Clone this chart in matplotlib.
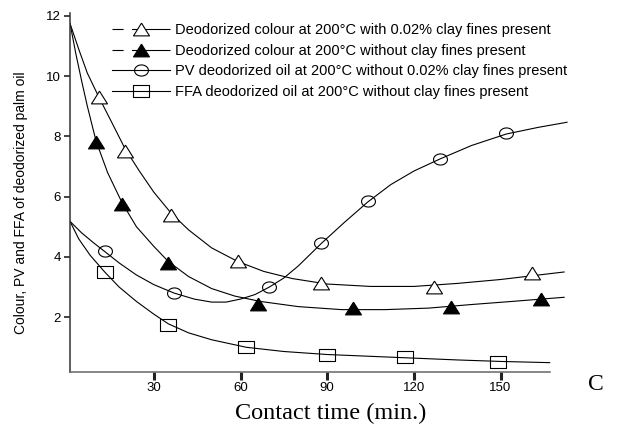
import numpy as np
import matplotlib
matplotlib.use("Agg")
import matplotlib.pyplot as plt
from matplotlib.lines import Line2D

plt.rcParams['font.family'] = ['Liberation Sans', 'DejaVu Sans']
plt.rcParams['lines.scale_dashes'] = False

# Measured points (contact time in min.)
open_tri_x = [11, 20, 36, 59, 88, 127, 161]
open_tri_y = [9.3, 7.5, 5.4, 3.85, 3.15, 3.0, 3.45]
fill_tri_x = [10, 19, 35, 66, 99, 133, 164]
fill_tri_y = [7.8, 5.75, 3.8, 2.45, 2.3, 2.35, 2.6]
pv_x = [13, 37, 70, 88, 104, 129, 152]
pv_y = [4.2, 2.8, 3.0, 4.45, 5.85, 7.25, 8.1]
ffa_x = [13, 35, 62, 90, 117, 149]
ffa_y = [3.5, 1.75, 1.0, 0.75, 0.68, 0.5]

# Fitted curves
open_fit_x = [1, 4, 7, 11, 15, 20, 25, 30, 36, 42, 50, 59, 68, 78, 90, 105, 120, 135, 150, 172]
open_fit_y = [11.75, 10.9, 10.1, 9.3, 8.55, 7.6, 6.85, 6.15, 5.45, 4.9, 4.3, 3.85, 3.52, 3.28, 3.1, 3.02, 3.02, 3.12, 3.25, 3.5]
fill_fit_x = [1, 3, 5, 7, 10, 14, 19, 24, 30, 35, 42, 50, 58, 67, 80, 95, 110, 125, 140, 155, 172]
fill_fit_y = [11.75, 10.75, 9.85, 9.0, 7.85, 6.8, 5.8, 5.0, 4.35, 3.85, 3.35, 2.95, 2.7, 2.52, 2.35, 2.25, 2.25, 2.3, 2.42, 2.53, 2.66]
pv_fit_x = [1, 5, 9, 13, 18, 24, 30, 37, 44, 50, 55, 60, 65, 70, 75, 80, 88, 96, 104, 112, 120, 129, 140, 152, 163, 173]
pv_fit_y = [5.18, 4.8, 4.48, 4.18, 3.8, 3.4, 3.08, 2.8, 2.6, 2.5, 2.5, 2.6, 2.75, 3.0, 3.3, 3.7, 4.45, 5.15, 5.82, 6.4, 6.85, 7.25, 7.7, 8.08, 8.3, 8.47]
ffa_fit_x = [1, 4, 8, 13, 18, 24, 30, 35, 42, 50, 62, 75, 90, 105, 120, 135, 150, 167]
ffa_fit_y = [5.18, 4.6, 4.05, 3.5, 3.0, 2.52, 2.1, 1.78, 1.48, 1.25, 1.0, 0.86, 0.76, 0.7, 0.64, 0.58, 0.53, 0.49]

x_ticks = [30, 60, 90, 120, 150]
y_ticks = [2, 4, 6, 8, 10, 12]

labels = [
    "Deodorized colour at 200\u00b0C with 0.02% clay fines present",
    "Deodorized colour at 200\u00b0C without clay fines present",
    "PV deodorized oil at 200\u00b0C without 0.02% clay fines present",
    "FFA deodorized oil at 200\u00b0C without clay fines present",
]

# slightly squashed marker shapes (reference image is stretched sideways)
t = np.linspace(0, 2 * np.pi, 60)
ellipse = np.column_stack([np.cos(t), 0.8 * np.sin(t)])
rect = [(-1, -0.75), (1, -0.75), (1, 0.75), (-1, 0.75), (-1, -0.75)]
tri = [(0, 0.8), (-1, -0.8), (1, -0.8), (0, 0.8)]

fig = plt.figure(figsize=(6.23, 4.29), dpi=100)
ax = fig.add_axes([0.1124, 0.1329, 0.807, 0.837])

lw = 0.8
ax.plot(open_fit_x, open_fit_y, 'k-', linewidth=lw)
ax.plot(fill_fit_x, fill_fit_y, 'k-', linewidth=lw)
ax.plot(pv_fit_x, pv_fit_y, 'k-', linewidth=lw)
ax.plot(ffa_fit_x, ffa_fit_y, 'k-', linewidth=lw)

mk = dict(linestyle='none', markeredgecolor='black', markeredgewidth=0.8)
ax.plot(open_tri_x, open_tri_y, marker=tri, markersize=11.5, markerfacecolor='white', **mk)
ax.plot(fill_tri_x, fill_tri_y, marker=tri, markersize=11.5, markerfacecolor='black', **mk)
ax.plot(pv_x, pv_y, marker=ellipse, markersize=10, markerfacecolor='none', **mk)
ax.plot(ffa_x, ffa_y, marker=rect, markersize=11, markerfacecolor='none', **mk)

# legend handles: first two are drawn dashed in the original
dash = (0, (8, 6, 40, 0))
handles = [
    Line2D([], [], color='black', linewidth=lw, linestyle=dash, marker=tri, markersize=11.5,
           markerfacecolor='white', markeredgecolor='black', markeredgewidth=0.8),
    Line2D([], [], color='black', linewidth=lw, linestyle=dash, marker=tri, markersize=11.5,
           markerfacecolor='black', markeredgecolor='black', markeredgewidth=0.8),
    Line2D([], [], color='black', linewidth=lw, marker=ellipse, markersize=10,
           markerfacecolor='none', markeredgecolor='black', markeredgewidth=0.8),
    Line2D([], [], color='black', linewidth=lw, marker=rect, markersize=11,
           markerfacecolor='none', markeredgecolor='black', markeredgewidth=0.8),
]
ax.legend(handles, labels, loc='upper left', bbox_to_anchor=(0.0835, 0.972), frameon=False,
          fontsize=10.5, handlelength=4.0, handletextpad=0.35, labelspacing=0.46,
          borderpad=0, borderaxespad=0, numpoints=1)

ax.set_xlim(1, 175)
ax.set_ylim(0.18, 12.1)
ax.set_xticks(x_ticks)
ax.set_yticks(y_ticks)
ax.spines['top'].set_visible(False)
ax.spines['right'].set_visible(False)
ax.spines['left'].set_color('#333333')
ax.spines['bottom'].set_color('#666666')
ax.spines['left'].set_linewidth(1.1)
ax.spines['bottom'].set_linewidth(1.1)
ax.spines['bottom'].set_bounds(1, 167)
ax.tick_params(axis='x', direction='out', length=5.5, width=2.2, color='#222222', labelsize=9.5, pad=2)
ax.tick_params(axis='y', direction='out', length=4.5, width=1.2, color='#222222', labelsize=9.5, pad=2)

# axis titles placed by hand to match the original layout
fig.text(21 / 623, 1 - 203 / 429, "Colour, PV and FFA of deodorized palm oil", fontsize=10,
         rotation=90, ha='center', va='center')
fig.text(0.531, 0.036, "Contact time (min.)", fontsize=17.5, family='Liberation Serif',
         ha='center', va='center')
fig.text(0.957, 0.103, "C", fontsize=17, family='Liberation Serif', ha='center', va='center')

plt.savefig("out.png", dpi=100)
plt.close()
